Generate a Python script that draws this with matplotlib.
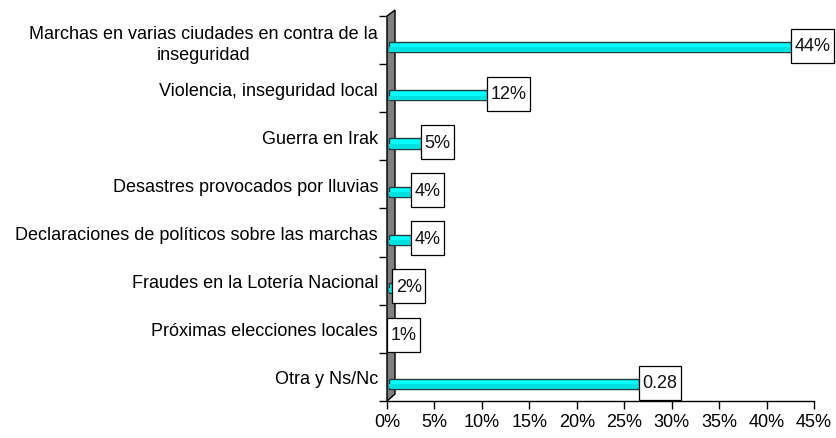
import matplotlib
matplotlib.use('Agg')
import matplotlib.pyplot as plt
from matplotlib.patches import Polygon, Rectangle
import numpy as np

plt.rcParams['font.family'] = ['Liberation Sans', 'DejaVu Sans']

categorias = [
    'Marchas en varias ciudades en contra de la\ninseguridad',
    'Violencia, inseguridad local',
    'Guerra en Irak',
    'Desastres provocados por lluvias',
    'Declaraciones de políticos sobre las marchas',
    'Fraudes en la Lotería Nacional',
    'Próximas elecciones locales',
    'Otra y Ns/Nc',
]
valores = [44, 12, 5, 4, 4, 2, 1, 28]
etiquetas = ['44%', '12%', '5%', '4%', '4%', '2%', '1%', '0.28']
ticks_x = [0, 5, 10, 15, 20, 25, 30, 35, 40, 45]

# efecto 3D: la cara frontal de la barra queda corrida hacia la izquierda/abajo
PROF_X = 1.45
PROF_Y = 0.15
ALTO = 0.21
TXT = 13
CAJA_H = 34   # px
CAJA_PAD = 3.5  # px

fig = plt.figure(figsize=(8.37, 4.39), dpi=100)
ax = fig.add_axes([0.4624, 0.0843, 0.9725 - 0.4624, 0.9613 - 0.0843])

y = np.arange(len(categorias))
ancho = np.clip(np.array(valores, dtype=float) - PROF_X, 0, None)
inicio = 0.2

for i in range(len(valores)):
    if ancho[i] <= 0.2:
        continue
    ax.barh(y[i] + PROF_Y, ancho[i] - inicio, left=inicio, height=ALTO,
            color='#00FFFF', edgecolor='#1f3d3d', linewidth=1.0, zorder=4)
    ax.barh(y[i] + PROF_Y + ALTO * 0.22, ancho[i] - inicio, left=inicio, height=ALTO * 0.4,
            color='#00E0E0', linewidth=0, zorder=5)

textos = []
for i, et in enumerate(etiquetas):
    t = ax.annotate(et, xy=(ancho[i], y[i] + PROF_Y - 0.03), xytext=(CAJA_PAD * 0.72, 0),
                    textcoords='offset points', ha='left', va='center', fontsize=TXT,
                    color='#111111', zorder=7)
    textos.append(t)

# pared gris
pared = Polygon([(0, 1), (0.0187, 1.0156), (0.0187, 0.018), (0, 0)],
                closed=True, transform=ax.transAxes, facecolor='#808080',
                edgecolor='black', linewidth=1.0, clip_on=False, zorder=3)
ax.add_patch(pared)

ax.set_xlim(0, 45)
ax.set_ylim(len(categorias) - 0.5, -0.5)
ax.set_xticks(ticks_x)
ax.set_xticklabels([f'{t}%' for t in ticks_x], fontsize=TXT)
ax.set_yticks(y)
ax.set_yticklabels(categorias, fontsize=TXT, ha='right', multialignment='center',
                   linespacing=1.3)
ax.set_yticks(np.arange(-0.5, len(categorias), 1), minor=True)
ax.tick_params(axis='y', which='major', length=0, pad=6.5)
ax.tick_params(axis='y', which='minor', length=5.5, width=1, color='black')
ax.tick_params(axis='x', length=5.5, width=1, pad=3)

for s in ['top', 'right']:
    ax.spines[s].set_visible(False)
ax.spines['left'].set_linewidth(1)
ax.spines['bottom'].set_linewidth(1)

# cajas blancas de las etiquetas (más altas que el texto, como en Excel)
fig.canvas.draw()
for t in textos:
    ext = t.get_window_extent()
    cy = (ext.y0 + ext.y1) / 2
    caja = Rectangle((ext.x0 - CAJA_PAD, cy - CAJA_H / 2), ext.width + 2 * CAJA_PAD, CAJA_H,
                     transform=None, facecolor='white', edgecolor='black',
                     linewidth=0.9, zorder=6, clip_on=False)
    ax.add_artist(caja)

fig.savefig('out.png', dpi=100)
